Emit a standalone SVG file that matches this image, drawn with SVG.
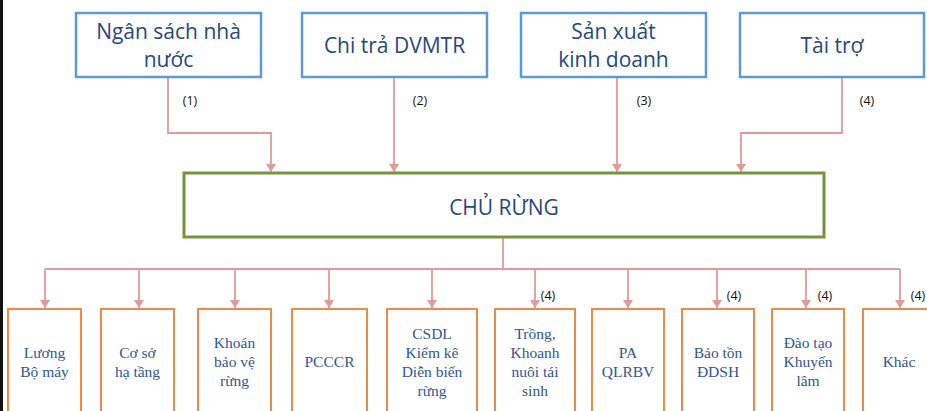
<svg xmlns="http://www.w3.org/2000/svg" width="927" height="411" viewBox="0 0 927 411">
<style>
.src{fill:#fff;stroke:#5B9BD5;stroke-width:2.5}
.main{fill:#fff;stroke:#77933C;stroke-width:3}
.leaf{fill:#fff;stroke:#EE8A45;stroke-width:2}
.t1{font-family:"Open Sans","Noto Sans",sans-serif;font-size:21px;fill:#1F497D;text-anchor:middle}
.t2{font-family:"Liberation Serif","DejaVu Serif",serif;font-size:15.5px;fill:#2F5597;text-anchor:middle}
.lbl{font-family:"Open Sans","Noto Sans",sans-serif;font-size:12.5px;fill:#111;text-anchor:middle}
.ln{fill:none;stroke:#E09A9A;stroke-width:1.8}
</style>
<defs>
<marker id="ah" markerWidth="10" markerHeight="10" refX="8" refY="5" orient="auto" markerUnits="userSpaceOnUse" viewBox="0 0 10 10">
<path d="M0,0 L8,5 L0,10 Z" fill="#E09A9A"/>
</marker>
</defs>
<rect x="0" y="0" width="927" height="411" fill="#fff"/>
<rect x="0" y="0" width="3" height="411" fill="#111"/>

<g id="connectors">
<path class="ln" d="M168,78 V133 H271 V172" marker-end="url(#ah)"/>
<path class="ln" d="M394,78 V172" marker-end="url(#ah)"/>
<path class="ln" d="M617,78 V172" marker-end="url(#ah)"/>
<path class="ln" d="M842,78 V133 H741 V172" marker-end="url(#ah)"/>
<path class="ln" d="M503,238 V269"/>
<path class="ln" d="M45,269 H900"/>
<path class="ln" d="M45,269 V308" marker-end="url(#ah)"/>
<path class="ln" d="M139,269 V308" marker-end="url(#ah)"/>
<path class="ln" d="M235,269 V308" marker-end="url(#ah)"/>
<path class="ln" d="M329,269 V308" marker-end="url(#ah)"/>
<path class="ln" d="M432,269 V308" marker-end="url(#ah)"/>
<path class="ln" d="M535,269 V308" marker-end="url(#ah)"/>
<path class="ln" d="M628,269 V308" marker-end="url(#ah)"/>
<path class="ln" d="M717,269 V308" marker-end="url(#ah)"/>
<path class="ln" d="M806,269 V308" marker-end="url(#ah)"/>
<path class="ln" d="M900,269 V308" marker-end="url(#ah)"/>
<text class="lbl" x="190" y="105">(1)</text>
<text class="lbl" x="420" y="105">(2)</text>
<text class="lbl" x="644" y="105">(3)</text>
<text class="lbl" x="867" y="105">(4)</text>
<text class="lbl" x="548" y="300">(4)</text>
<text class="lbl" x="734" y="300">(4)</text>
<text class="lbl" x="825" y="300">(4)</text>
<text class="lbl" x="918" y="300">(4)</text>
</g>

<g id="n1"><rect class="src" x="76" y="13" width="185" height="64"/><text class="t1" x="168.5" y="39">Ngân sách nhà</text><text class="t1" x="168.5" y="67">nước</text></g>
<g id="n2"><rect class="src" x="302" y="13" width="185" height="64"/><text class="t1" x="394.5" y="53">Chi trả DVMTR</text></g>
<g id="n3"><rect class="src" x="521" y="13" width="185" height="64"/><text class="t1" x="613.5" y="39">Sản xuất</text><text class="t1" x="613.5" y="67">kinh doanh</text></g>
<g id="n4"><rect class="src" x="740" y="13" width="184" height="64"/><text class="t1" x="832" y="53">Tài trợ</text></g>

<g id="main"><rect class="main" x="184" y="173" width="640" height="64"/><text class="t1" x="504" y="215">CHỦ RỪNG</text></g>

<g id="b1"><rect class="leaf" x="8" y="309" width="73" height="110"/><text class="t2" x="44.5" y="358">Lương</text><text class="t2" x="44.5" y="377">Bộ máy</text></g>
<g id="b2"><rect class="leaf" x="101" y="309" width="73" height="110"/><text class="t2" x="137.5" y="358">Cơ sở</text><text class="t2" x="137.5" y="377">hạ tầng</text></g>
<g id="b3"><rect class="leaf" x="198" y="309" width="73" height="110"/><text class="t2" x="234.5" y="348">Khoán</text><text class="t2" x="234.5" y="367">bảo vệ</text><text class="t2" x="234.5" y="386">rừng</text></g>
<g id="b4"><rect class="leaf" x="292" y="309" width="75" height="110"/><text class="t2" x="329.5" y="367">PCCCR</text></g>
<g id="b5"><rect class="leaf" x="387" y="309" width="90" height="110"/><text class="t2" x="432" y="339">CSDL</text><text class="t2" x="432" y="358">Kiểm kê</text><text class="t2" x="432" y="377">Diễn biến</text><text class="t2" x="432" y="396">rừng</text></g>
<g id="b6"><rect class="leaf" x="495" y="309" width="80" height="110"/><text class="t2" x="535" y="339">Trồng,</text><text class="t2" x="535" y="358">Khoanh</text><text class="t2" x="535" y="377">nuôi tái</text><text class="t2" x="535" y="396">sinh</text></g>
<g id="b7"><rect class="leaf" x="592" y="309" width="72" height="110"/><text class="t2" x="628" y="358">PA</text><text class="t2" x="628" y="377">QLRBV</text></g>
<g id="b8"><rect class="leaf" x="682" y="309" width="72" height="110"/><text class="t2" x="718" y="358">Bảo tồn</text><text class="t2" x="718" y="377">ĐDSH</text></g>
<g id="b9"><rect class="leaf" x="772" y="309" width="72" height="110"/><text class="t2" x="808" y="348">Đào tạo</text><text class="t2" x="808" y="367">Khuyến</text><text class="t2" x="808" y="386">lâm</text></g>
<g id="b10"><rect class="leaf" x="863" y="309" width="76" height="110"/><text class="t2" x="899" y="367">Khác</text></g>
</svg>
